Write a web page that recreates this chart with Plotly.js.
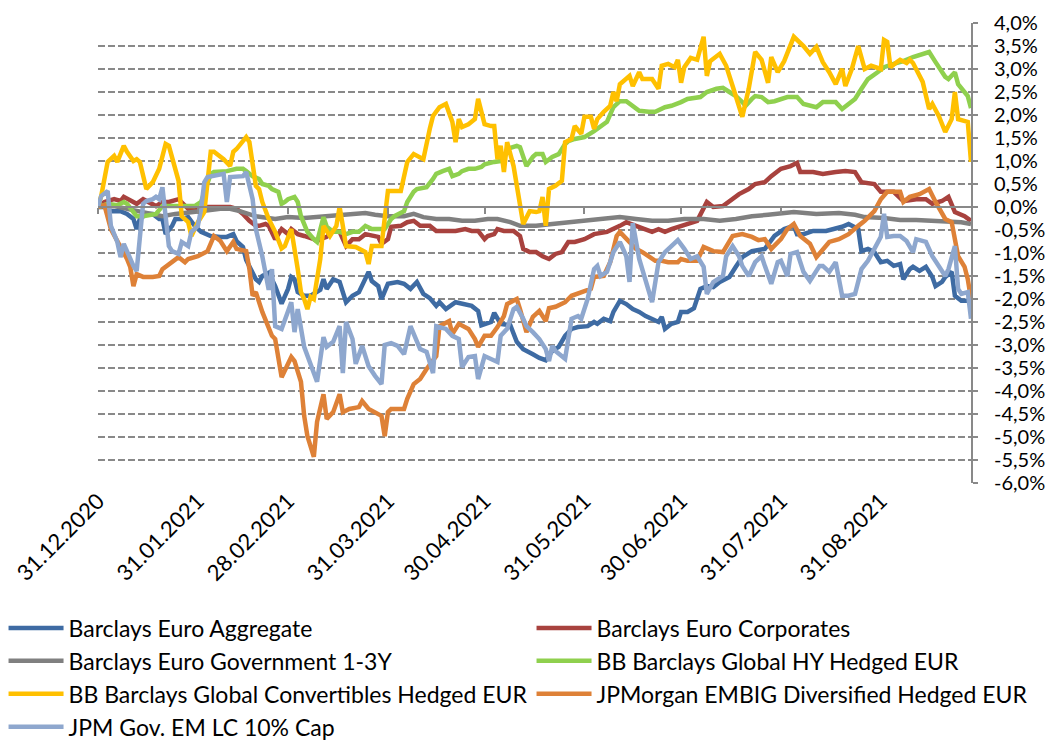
<!DOCTYPE html>
<html><head><meta charset="utf-8">
<script src="https://cdn.plot.ly/plotly-3.0.1.min.js"></script>
<style>html,body{margin:0;padding:0;background:#fff}#chart{width:1053px;height:742px}</style>
</head><body><div id="chart"></div>
<script>
// x = calendar days since 31.12.2020, y = performance in %
const seriesNames = [
  'Barclays Euro Aggregate',
  'Barclays Euro Corporates',
  'Barclays Euro Government 1-3Y',
  'BB Barclays Global HY Hedged EUR',
  'BB Barclays Global Convertibles Hedged EUR',
  'JPMorgan EMBIG Diversified Hedged EUR',
  'JPM Gov. EM LC 10% Cap'
];
const seriesColors = ['#3E6BA3','#A8423E','#808080','#8FD04E','#FFC000','#DE8137','#8EA7CE'];
const seriesLegend = ['legend','legend2','legend','legend2','legend','legend2','legend'];

const aggData = [[0,0],[2,0],[4,-0.09],[7,-0.09],[9,-0.15],[11,-0.26],[12,-0.48],[13,-0.26],[15,-0.15],[17,-0.15],[19,-0.26],[20,-0.26],[21,-0.59],[23,-0.41],[24,-0.26],[26,-0.26],[28,-0.22],[30,-0.41],[32,-0.54],[35,-0.63],[38,-0.65],[40,-0.65],[42,-0.59],[43,-0.74],[45,-0.87],[46,-1.15],[49,-1.57],[50,-1.63],[51,-1.50],[53,-1.43],[55,-1.72],[57,-2.10],[59,-1.78],[60,-1.52],[61,-1.57],[62,-1.85],[64,-1.93],[66,-1.93],[69,-1.80],[70,-1.57],[71,-1.78],[73,-1.57],[75,-1.63],[77,-2.07],[79,-1.93],[81,-1.85],[84,-1.41],[85,-1.61],[87,-1.72],[88,-2.00],[90,-1.67],[93,-1.63],[95,-1.67],[97,-1.78],[99,-1.63],[101,-1.89],[103,-1.98],[105,-2.15],[106,-2.07],[108,-2.22],[111,-2.07],[113,-2.11],[116,-2.15],[118,-2.26],[119,-2.57],[122,-2.50],[123,-2.30],[125,-2.54],[128,-2.57],[130,-2.93],[132,-3.09],[135,-3.20],[137,-3.28],[139,-3.33],[141,-3.13],[143,-3.04],[145,-2.80],[147,-2.65],[149,-2.61],[152,-2.59],[154,-2.50],[155,-2.54],[157,-2.43],[159,-2.48],[160,-2.28],[162,-2.04],[164,-2.11],[166,-2.22],[168,-2.28],[170,-2.37],[172,-2.43],[174,-2.50],[175,-2.39],[176,-2.65],[178,-2.54],[180,-2.50],[181,-2.28],[183,-2.28],[185,-2.20],[187,-1.78],[189,-1.72],[191,-1.74],[193,-1.63],[196,-1.52],[198,-1.30],[200,-1.09],[203,-0.96],[207,-0.91],[210,-0.63],[213,-0.48],[216,-0.41],[217,-0.59],[219,-0.59],[222,-0.52],[226,-0.52],[229,-0.48],[231,-0.43],[233,-0.37],[236,-0.48],[237,-0.96],[239,-0.91],[241,-0.98],[243,-1.20],[245,-1.17],[247,-1.28],[249,-1.24],[250,-1.57],[252,-1.35],[253,-1.30],[255,-1.39],[257,-1.30],[259,-1.52],[260,-1.72],[262,-1.63],[263,-1.52],[265,-1.41],[266,-1.93],[268,-2.04],[270,-2.04],[271,-2.10]];

const corpData = [[0,0],[2,0.11],[5,0.17],[7,0.13],[8,0.22],[11,0.11],[12,0.07],[14,0.17],[15,0.13],[17,0.07],[18,0.02],[20,0.11],[22,0.11],[25,0.17],[26,0.11],[28,-0.04],[30,-0.04],[32,-0.04],[34,0],[37,0],[39,-0.02],[41,0],[43,-0.04],[45,-0.15],[47,-0.30],[49,-0.41],[50,-0.41],[52,-0.37],[53,-0.41],[55,-0.70],[57,-0.48],[59,-0.59],[60,-0.48],[62,-0.59],[64,-0.63],[65,-0.65],[67,-0.70],[68,-0.74],[69,-0.70],[71,-0.65],[73,-0.52],[75,-0.54],[77,-0.85],[79,-0.70],[81,-0.70],[83,-0.59],[85,-0.63],[87,-0.65],[88,-0.80],[90,-0.70],[91,-0.43],[94,-0.41],[96,-0.33],[98,-0.30],[100,-0.41],[103,-0.41],[105,-0.52],[107,-0.52],[109,-0.54],[111,-0.52],[114,-0.48],[116,-0.52],[118,-0.52],[120,-0.70],[121,-0.63],[123,-0.59],[124,-0.48],[126,-0.52],[129,-0.52],[131,-0.63],[132,-0.91],[134,-0.98],[136,-0.98],[138,-1.07],[140,-1.13],[142,-1.02],[144,-0.98],[146,-0.76],[148,-0.76],[151,-0.70],[154,-0.59],[158,-0.54],[162,-0.41],[164,-0.33],[167,-0.41],[170,-0.48],[172,-0.54],[174,-0.48],[176,-0.54],[178,-0.48],[181,-0.41],[185,-0.30],[186,-0.30],[189,0.11],[191,0],[194,0.02],[197,0.17],[199,0.28],[202,0.39],[204,0.50],[207,0.54],[209,0.67],[212,0.83],[215,0.89],[217,0.96],[218,0.76],[222,0.76],[225,0.72],[229,0.76],[232,0.78],[235,0.76],[237,0.54],[241,0.50],[243,0.33],[247,0.33],[250,0.13],[254,0.17],[257,0.17],[259,0.07],[262,0.13],[264,0.22],[266,-0.11],[269,-0.20],[271,-0.30]];

const govData = [[0,0],[3,0.02],[5,0.02],[9,-0.04],[12,-0.09],[16,-0.15],[20,-0.20],[24,-0.15],[28,-0.11],[33,-0.08],[38,-0.04],[41,-0.04],[44,-0.09],[49,-0.20],[55,-0.26],[59,-0.22],[64,-0.24],[70,-0.20],[76,-0.17],[83,-0.13],[86,-0.17],[90,-0.20],[95,-0.20],[98,-0.15],[101,-0.22],[105,-0.26],[109,-0.26],[113,-0.30],[117,-0.30],[121,-0.26],[124,-0.26],[128,-0.33],[131,-0.41],[134,-0.41],[136,-0.41],[141,-0.37],[146,-0.33],[151,-0.30],[157,-0.26],[162,-0.22],[167,-0.26],[172,-0.30],[177,-0.30],[182,-0.26],[188,-0.26],[193,-0.30],[198,-0.26],[203,-0.20],[208,-0.17],[216,-0.11],[223,-0.15],[230,-0.13],[235,-0.17],[238,-0.22],[244,-0.24],[249,-0.28],[254,-0.28],[259,-0.30],[264,-0.30],[268,-0.33],[271,-0.37]];

const hyData = [[0,0],[3,0.07],[6,0.04],[8,0.11],[9,0.07],[12,-0.20],[14,-0.20],[17,-0.15],[18,-0.15],[20,0.02],[23,0.02],[26,0.02],[28,0],[30,0.02],[32,0.11],[33,0.33],[35,0.72],[36,0.76],[39,0.76],[40,0.78],[43,0.83],[45,0.83],[46,0.78],[48,0.67],[50,0.61],[51,0.50],[53,0.46],[54,0.39],[56,0.33],[57,0.07],[58,0.11],[59,0.17],[61,0.22],[62,0.11],[63,-0.20],[65,-0.54],[67,-0.70],[68,-0.76],[70,-0.22],[71,-0.43],[73,-0.54],[75,-0.54],[77,-0.59],[79,-0.54],[81,-0.54],[82,-0.48],[83,-0.41],[85,-0.48],[87,-0.48],[89,-0.48],[90,-0.37],[91,-0.26],[92,-0.20],[95,-0.09],[96,0.11],[98,0.33],[99,0.39],[102,0.43],[104,0.61],[105,0.72],[107,0.78],[109,0.83],[110,0.67],[112,0.72],[113,0.78],[115,0.83],[117,0.83],[119,0.87],[120,0.93],[122,0.98],[123,0.98],[125,1.00],[126,1.04],[127,1.26],[130,1.33],[131,1.30],[132,1.09],[133,0.89],[135,1.09],[136,1.15],[138,1.15],[139,0.98],[141,1.09],[143,1.15],[145,1.37],[146,1.43],[148,1.48],[151,1.52],[154,1.65],[156,1.76],[158,1.85],[160,2.17],[162,2.30],[164,2.30],[166,2.20],[168,2.09],[171,2.07],[173,2.07],[176,2.17],[178,2.20],[181,2.28],[183,2.35],[187,2.39],[189,2.50],[192,2.57],[194,2.59],[196,2.50],[198,2.41],[200,2.28],[201,2.20],[203,2.35],[204,2.41],[206,2.39],[208,2.28],[210,2.30],[214,2.39],[217,2.39],[219,2.24],[223,2.17],[225,2.28],[229,2.28],[231,2.13],[233,2.24],[235,2.35],[237,2.57],[239,2.78],[242,2.93],[244,3.04],[247,3.11],[250,3.17],[253,3.26],[256,3.33],[258,3.37],[260,3.15],[263,2.83],[264,2.78],[266,2.93],[267,2.67],[269,2.52],[270,2.41],[271,2.15]];

const convData = [[0,0],[1,0.24],[3,0.98],[5,1.11],[6,0.98],[8,1.33],[9,1.20],[11,1.00],[12,1.04],[13,0.98],[15,0.39],[17,0.54],[19,0.83],[21,1.37],[22,1.33],[24,0.76],[25,0.57],[26,-0.20],[28,-0.33],[29,-0.63],[31,-0.33],[33,-0.11],[34,0.46],[35,1.20],[36,1.20],[39,1.04],[41,0.89],[42,1.20],[43,1.26],[46,1.52],[47,1.41],[49,0.46],[50,0.39],[51,0.11],[53,-0.26],[55,-0.54],[57,-0.90],[58,-0.85],[60,-0.48],[61,-0.85],[62,-1.35],[63,-1.85],[64,-2.00],[65,-2.22],[66,-1.95],[67,-2.00],[69,-1.13],[70,-0.41],[72,-0.63],[74,-0.41],[75,0],[76,-0.41],[77,-0.85],[80,-0.87],[81,-0.91],[83,-0.98],[84,-1.24],[85,-0.85],[88,-0.85],[90,0.35],[94,0.35],[96,0.98],[98,1.15],[101,1.04],[103,1.70],[104,1.98],[106,2.17],[108,2.24],[110,1.85],[111,1.41],[112,1.91],[113,1.74],[115,1.80],[117,1.91],[118,2.35],[120,1.80],[122,1.76],[123,1.76],[124,1.04],[125,1.33],[126,0.76],[127,1.41],[129,0.89],[131,0.02],[132,-0.37],[134,-0.09],[136,-0.11],[137,-0.09],[138,0.22],[139,-0.41],[140,0.39],[142,0.46],[144,0.57],[145,1.41],[147,1.48],[148,1.76],[150,1.59],[151,1.96],[153,1.96],[154,1.70],[155,1.91],[157,2.07],[159,2.20],[160,2.50],[161,2.30],[162,2.67],[164,2.78],[165,2.85],[166,2.63],[168,2.93],[169,2.78],[172,2.78],[174,2.57],[175,3.07],[177,3.11],[179,3.04],[180,3.20],[181,2.70],[182,3.04],[184,3.24],[186,3.20],[188,3.70],[189,2.85],[190,3.17],[193,3.33],[195,3.07],[197,2.63],[199,2.20],[200,1.96],[202,2.57],[204,3.37],[206,3.20],[208,2.70],[209,3.26],[211,2.93],[213,3.17],[214,3.33],[216,3.70],[219,3.50],[221,3.33],[223,3.48],[225,3.15],[227,2.93],[229,2.67],[231,3.00],[232,2.63],[234,3.00],[236,3.50],[238,3.00],[240,3.07],[243,3.00],[244,3.63],[245,3.59],[246,3.04],[248,3.15],[249,3.20],[251,3.13],[252,3.20],[253,3.13],[255,2.85],[256,2.72],[258,2.13],[259,2.24],[261,1.98],[263,1.63],[265,1.91],[266,2.50],[267,1.91],[269,1.87],[270,1.85],[271,0.98]];

const embigData = [[0,0],[2,0.04],[4,-0.48],[7,-0.85],[9,-1.13],[10,-1.30],[11,-1.72],[12,-1.46],[14,-1.52],[17,-1.52],[19,-1.50],[20,-1.35],[23,-1.20],[25,-1.09],[27,-1.20],[28,-1.13],[31,-1.07],[34,-0.96],[36,-0.63],[38,-0.74],[40,-0.96],[42,-0.76],[43,-0.91],[46,-0.96],[47,-1.35],[48,-1.93],[49,-1.85],[51,-2.28],[54,-2.80],[55,-2.87],[57,-3.70],[60,-3.26],[61,-3.35],[63,-3.80],[64,-4.54],[65,-4.98],[67,-5.43],[68,-4.67],[70,-4.07],[71,-4.61],[73,-4.46],[75,-4.07],[76,-4.46],[78,-4.39],[81,-4.35],[82,-4.22],[84,-4.39],[87,-4.50],[88,-4.54],[89,-4.98],[90,-4.46],[91,-4.39],[95,-4.39],[96,-4.17],[98,-3.85],[100,-3.74],[102,-3.52],[105,-3.24],[106,-2.59],[109,-2.48],[110,-2.76],[112,-2.54],[115,-2.65],[117,-2.87],[118,-3.04],[120,-2.80],[122,-2.80],[124,-2.61],[126,-2.37],[127,-2.11],[130,-2.00],[131,-2.22],[133,-2.72],[135,-2.39],[137,-2.26],[139,-2.48],[140,-2.20],[142,-2.17],[145,-2.07],[147,-1.93],[150,-1.85],[153,-1.78],[154,-1.52],[157,-1.50],[159,-1.20],[161,-0.63],[162,-0.54],[165,-0.76],[167,-0.91],[169,-0.98],[171,-1.07],[173,-1.17],[175,-1.17],[177,-1.20],[180,-1.20],[181,-1.13],[183,-1.17],[186,-1.17],[188,-0.87],[191,-0.96],[194,-0.98],[196,-0.74],[197,-0.63],[200,-0.59],[203,-0.65],[205,-0.72],[207,-0.70],[209,-0.91],[212,-0.70],[214,-0.48],[216,-0.37],[218,-0.63],[221,-0.80],[223,-1.09],[225,-0.91],[227,-0.76],[230,-0.70],[233,-0.59],[236,-0.41],[238,-0.30],[241,-0.09],[243,0.17],[245,0.33],[249,0.33],[250,0.11],[252,0.22],[255,0.28],[258,0.39],[260,0.11],[263,-0.26],[265,-0.33],[267,-1.07],[269,-1.30],[270,-1.57],[271,-2.00]];

const emlcData = [[0,0],[1,0.24],[3,0.35],[4,-0.41],[6,-0.76],[7,-1.09],[8,-0.80],[9,-0.98],[11,-1.28],[12,-1.39],[13,-0.76],[14,0.07],[15,0.13],[17,0.17],[18,0.22],[19,0.17],[20,0.43],[21,-0.26],[22,-0.85],[23,-0.96],[25,-1.02],[26,-0.76],[28,-0.85],[29,-0.54],[31,-0.41],[32,-0.04],[33,0.54],[34,0.65],[36,0.67],[39,0.72],[40,0.11],[41,0.65],[45,0.67],[46,0.76],[48,0.17],[49,-0.48],[51,-1.07],[53,-1.80],[54,-1.35],[55,-2.59],[57,-2.65],[60,-2.07],[61,-2.72],[62,-2.22],[64,-3.04],[65,-3.22],[66,-3.46],[68,-3.80],[70,-2.83],[71,-3.04],[73,-2.93],[75,-2.59],[76,-3.61],[77,-2.50],[79,-2.87],[80,-3.41],[82,-3.02],[84,-3.46],[86,-3.67],[88,-3.85],[89,-3.00],[91,-2.96],[93,-3.02],[95,-3.20],[97,-2.59],[99,-2.93],[100,-3.09],[102,-3.15],[104,-3.61],[105,-2.59],[108,-2.65],[110,-2.80],[112,-2.87],[113,-3.48],[115,-3.26],[117,-3.24],[118,-3.74],[120,-3.24],[122,-3.30],[124,-3.37],[125,-2.80],[127,-2.65],[129,-2.22],[130,-2.17],[132,-2.43],[133,-2.59],[135,-2.72],[137,-2.87],[139,-3.09],[140,-3.35],[141,-3.02],[142,-3.13],[145,-3.30],[147,-2.43],[149,-2.37],[150,-2.43],[152,-2.00],[154,-1.35],[155,-1.28],[156,-1.50],[158,-1.41],[160,-0.98],[162,-0.76],[164,-1.07],[165,-1.63],[166,-0.35],[168,-1.13],[170,-1.63],[172,-2.07],[174,-1.20],[176,-0.98],[178,-0.85],[180,-0.72],[182,-0.91],[184,-1.13],[186,-1.07],[188,-1.30],[189,-1.89],[191,-1.63],[194,-1.50],[195,-1.07],[197,-0.85],[199,-1.07],[200,-1.28],[202,-1.50],[204,-1.20],[206,-1.07],[207,-1.28],[209,-1.67],[211,-1.20],[212,-1.17],[214,-1.50],[215,-1.02],[217,-0.98],[219,-1.41],[221,-1.61],[224,-1.28],[225,-1.28],[227,-1.41],[229,-1.20],[231,-1.93],[233,-1.93],[235,-1.89],[237,-1.35],[239,-1.17],[241,-0.91],[243,-0.65],[244,-0.15],[245,-0.65],[247,-0.63],[249,-0.63],[251,-0.74],[253,-0.98],[254,-0.70],[257,-0.76],[259,-1.07],[261,-1.28],[263,-1.50],[264,-1.35],[266,-0.85],[267,-1.78],[268,-1.89],[270,-1.85],[271,-2.43]];

const seriesData = [aggData, corpData, govData, hyData, convData, embigData, emlcData];

const tickDays = [0,31,59,90,120,151,181,212,243];
const tickLabels = ['31.12.2020','31.01.2021','28.02.2021','31.03.2021','30.04.2021','31.05.2021','30.06.2021','31.07.2021','31.08.2021'];
const yTickVals = [4,3.5,3,2.5,2,1.5,1,0.5,0,-0.5,-1,-1.5,-2,-2.5,-3,-3.5,-4,-4.5,-5,-5.5,-6];
const yTickText = ['4,0%','3,5%','3,0%','2,5%','2,0%','1,5%','1,0%','0,5%','0,0%','-0,5%','-1,0%','-1,5%','-2,0%','-2,5%','-3,0%','-3,5%','-4,0%','-4,5%','-5,0%','-5,5%','-6,0%'];

const axisGray = '#898989';
const FONT = 'Lato, Roboto, sans-serif';

const traces = seriesData.map((d, i) => ({
  type: 'scatter', mode: 'lines', name: seriesNames[i],
  x: d.map(p => p[0]), y: d.map(p => p[1]),
  line: {color: seriesColors[i], width: 4.5, shape: 'linear'},
  legend: seriesLegend[i], legendgroup: 'g' + i,
  hoverinfo: 'skip'
}));
// helper trace that carries the category axis drawn at the 0 % line
traces.push({type:'scatter', mode:'markers', x:[0], y:[0], xaxis:'x2', yaxis:'y',
  marker:{opacity:0}, showlegend:false, hoverinfo:'skip'});

const legendCommon = {orientation: 'v', xanchor: 'left', yanchor: 'top', y: -0.2685,
  itemwidth: 55, traceorder: 'grouped', tracegroupgap: 0, borderwidth: 0,
  font: {family: FONT, size: 23, color: '#000'}, bgcolor: 'rgba(0,0,0,0)'};

const layout = {
  width: 1053, height: 742,
  margin: {l: 98, r: 82, t: 23, b: 259, pad: 0, autoexpand: false},
  paper_bgcolor: '#ffffff', plot_bgcolor: '#ffffff',
  font: {family: FONT, size: 21, color: '#000000'},
  showlegend: true,
  xaxis: {range: [0, 271], tickmode: 'array', tickvals: tickDays, ticktext: tickLabels,
    tickangle: -45, showgrid: false, zeroline: false, showline: false, ticks: '',
    tickfont: {family: FONT, size: 22, color: '#000'}, automargin: false},
  xaxis2: {overlaying: 'x', anchor: 'free', position: 0.6, side: 'bottom', range: [0, 271],
    tickmode: 'array', tickvals: tickDays, showticklabels: false, ticks: 'outside', ticklen: 6,
    tickwidth: 2, tickcolor: axisGray, showline: true, linecolor: axisGray, linewidth: 2,
    showgrid: false, zeroline: false},
  yaxis: {range: [-6, 4], side: 'right', tickmode: 'array', tickvals: yTickVals, ticktext: yTickText,
    showgrid: true, gridcolor: axisGray, gridwidth: 1.8, griddash: '7px,3px', zeroline: false,
    showline: true, linecolor: axisGray, linewidth: 2, ticks: 'outside', ticklen: 5,
    tickwidth: 2, tickcolor: axisGray, ticklabelstandoff: 12,
    tickfont: {family: FONT, size: 20, color: '#000'}, automargin: false},
  legend: Object.assign({}, legendCommon, {x: -0.1082}),
  legend2: Object.assign({}, legendCommon, {x: 0.4966})
};

Plotly.newPlot('chart', traces, layout, {staticPlot: true, displayModeBar: false});
</script>
</body></html>
